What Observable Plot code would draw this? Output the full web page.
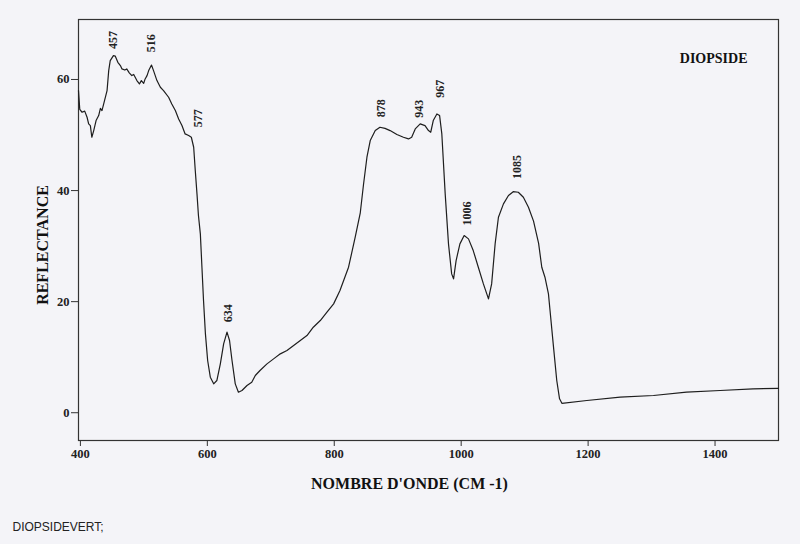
<!DOCTYPE html>
<html>
<head>
<meta charset="utf-8">
<script src="https://cdn.jsdelivr.net/npm/d3@7"></script>
<script src="https://cdn.jsdelivr.net/npm/@observablehq/plot@0.6"></script>
<style>
  html, body { margin: 0; padding: 0; background: #f4f4f8; }
  #chart svg { display: block; }
</style>
</head>
<body>
<div id="chart"></div>
<script>
const wavenumber = [397,399,402.6,406.8,410.5,413,415.7,418,421,424.7,428.8,431.5,434,438,442,444.6,447,452,455,459,463,465.5,470,473,477,481,484,489,493,496,499.7,502,505,507.6,512,515.5,520.6,526,531,539,544,549.6,554.8,560,565,570.6,574.8,578.5,581,583.7,586,589,591.5,594,597,600.5,604.7,610,615,620.5,625.7,631,635,638.9,644,649,654.6,662.5,670,675.6,683,694,704.4,715,725.5,736,746.5,757,767,778,788.5,799,809,822.5,833,841,846,851.5,856.7,864.6,872,880,888,898.7,909,917,922,927.6,935.4,943,948.5,952,956,961.7,966,969.5,974.8,980,985,988,992,998,1004.7,1011.5,1019,1027,1035,1043,1048,1053.5,1058.7,1066.6,1074.5,1082,1090,1098,1106,1114,1122,1127,1132,1137.5,1140,1145,1150.6,1155,1158.7,1198,1250.4,1303,1355,1408,1460,1500];
const reflectance = [58,54.6,54.1,54.3,53.2,52,51.7,49.6,50.8,52.6,53.5,54.8,54.4,56.2,58,61.6,63.4,64.3,64.2,63.1,62.5,61.9,61.7,61.9,61.2,60.7,60.9,59.8,59.2,59.8,59.3,60.1,60.7,61.6,62.6,61.5,59.8,58.6,58,56.8,55.6,54.4,52.9,51.7,50.2,49.9,49.6,47.8,43.6,39.4,35.5,32.2,26.2,20.2,14.2,9.4,6.4,5.2,5.8,8.8,12.4,14.5,13,9.4,5.2,3.7,4.0,4.9,5.5,6.7,7.6,8.8,9.7,10.6,11.2,12.1,13,13.9,15.4,16.6,18.1,19.6,22,26.2,31.6,36,41,46,49,50.8,51.4,51.2,50.8,50.1,49.6,49.3,49.6,51.1,52,51.7,50.8,50.5,52.6,53.8,53.5,50.2,39.4,30.4,25,24.1,27.4,30.4,31.9,31.3,29.2,26.2,23.2,20.5,23.2,30.4,35.2,37.6,39.1,39.8,39.7,38.8,37,34.5,30.5,26.2,24.4,21.4,18.4,12.4,5.8,2.5,1.7,2.2,2.8,3.1,3.7,4.0,4.3,4.4];

const peakLabels = ["457","516","577","634","878","943","967","1006","1085"];
const peakX = [452,512,586,632.5,874,933,967,1009,1087.8];
const peakY = [65.5,64.9,51.4,16.3,53.2,53.1,56.7,33.7,42.1];

const xTicks = [400,600,800,1000,1200,1400];
const yTicks = [0,20,40,60];

const spectrum = wavenumber.map((w, i) => ({w, r: reflectance[i]}));
const peaks = peakLabels.map((t, i) => ({t, x: peakX[i], y: peakY[i]}));

const serif = "'Liberation Serif', 'Times New Roman', serif";

const chart = Plot.plot({
  width: 800,
  height: 544,
  marginLeft: 78,
  marginRight: 22,
  marginTop: 19,
  marginBottom: 104,
  style: {fontFamily: serif, fontWeight: "bold", fontSize: "12px", background: "#f4f4f8", color: "#222", overflow: "visible"},
  x: {domain: [397, 1500]},
  y: {domain: [-5, 70.8]},
  marks: [
    Plot.frame({stroke: "#333", strokeWidth: 1.2}),
    Plot.axisX({ticks: xTicks, tickFormat: d => String(d), tickSize: 6, tickPadding: 3, label: null, stroke: "#333", fill: "#222", fontSize: 12.5}),
    Plot.axisY({ticks: yTicks, tickFormat: d => String(d), tickSize: 7, tickPadding: 2, label: null, stroke: "#333", fill: "#222", fontSize: 12.5}),
    Plot.line(spectrum, {x: "w", y: "r", stroke: "#1e1e1e", strokeWidth: 1.2}),
    Plot.text(peaks, {x: "x", y: "y", text: "t", rotate: -90, textAnchor: "start", fontSize: 12, fontWeight: "bold", fill: "#222"}),
    Plot.text(["DIOPSIDE"], {frameAnchor: "top-right", dx: -31, dy: 39, textAnchor: "end", lineAnchor: "middle", fontSize: 14, fontWeight: "bold", fill: "#111"}),
    Plot.text(["NOMBRE D'ONDE (CM -1)"], {frameAnchor: "bottom", dx: -19, dy: 43, textAnchor: "middle", lineAnchor: "middle", fontSize: 16, fontWeight: "bold", fill: "#111"}),
    Plot.text(["REFLECTANCE"], {frameAnchor: "left", dx: -36, dy: 15, rotate: -90, textAnchor: "middle", lineAnchor: "middle", fontSize: 16, fontWeight: "bold", fill: "#111"}),
    Plot.text(["DIOPSIDEVERT;"], {frameAnchor: "bottom-left", dx: -66, dy: 87, textAnchor: "start", lineAnchor: "middle", fontSize: 12, fontWeight: "normal", fontFamily: "'Liberation Sans', Arial, sans-serif", fill: "#222"})
  ]
});
document.getElementById("chart").appendChild(chart);
</script>
</body>
</html>
